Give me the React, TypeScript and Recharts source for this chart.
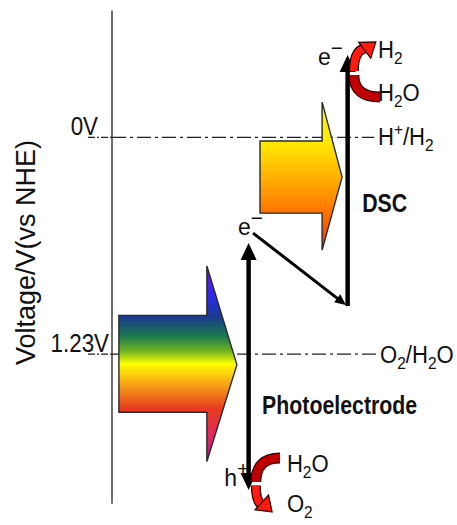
import React from 'react';
import { ComposedChart, XAxis, YAxis, Scatter } from 'recharts';

const FONT = "'Liberation Sans', Arial, sans-serif";

// redox levels (V vs NHE)
const levelValues = [0, 1.23];
const levelTicks = ['0V', '1.23V'];
const levelNames = ['H^+/H_2', 'O_2/H_2O'];
const levelEndX = [76, 76.5];
const levelNameX = [77.1, 77.7];
const levelNameV = [0.043, 1.28];

// potential axis
const axisX = [0, 0];
const axisV = [-0.72, 2.08];

// incoming light (polygon outline: body + head)
const lightX = [2, 27.5, 27.5, 36.2, 27.5, 27.5, 2];
const lightV = [1.01, 1.01, 0.73, 1.29, 1.84, 1.56, 1.56];
const dscLightX = [42.9, 60.9, 60.9, 66.7, 60.9, 60.9, 42.9];
const dscLightV = [0.02, 0.02, -0.2, 0.225, 0.64, 0.43, 0.43];

// carrier transitions
const dscJumpX = [68.3, 68.3];
const dscJumpV = [0.957, -0.468];
const photoJumpX = [39.6, 39.6];
const photoJumpV = [0.599, 2.001];
const transferX = [40.9, 67.8];
const transferV = [0.543, 0.951];

// reactions (start, turn, end)
const h2EvolutionX = [77.7, 70.1, 76.5];
const h2EvolutionV = [-0.229, -0.354, -0.542];
const o2EvolutionX = [48.7, 41.7, 46.4];
const o2EvolutionV = [1.82, 1.956, 2.126];

// text labels
const speciesNames = ['H_2', 'H_2O', 'H_2O', 'O_2'];
const speciesX = [77.1, 77.1, 50.7, 50.7];
const speciesV = [-0.451, -0.207, 1.899, 2.125];
const carrierNames = ['e^\u2212', 'e^\u2212', 'h^+'];
const carrierX = [59.7, 36.5, 32.5];
const carrierV = [-0.411, 0.554, 1.979];
const deviceNames = ['DSC', 'Photoelectrode'];
const deviceX = [72.5, 43.5];
const deviceV = [0.423, 1.57];

const pts = (xs: number[], vs: number[]) => xs.map((x, i) => ({ x, v: vs[i] }));
const named = (names: string[], xs: number[], vs: number[]) =>
  names.map((name, i) => ({ x: xs[i], v: vs[i], name }));

const levelLines = levelValues.map((v, i) => [{ x: 0, v }, { x: levelEndX[i], v }]);

const Formula = ({ x, y, text, size, weight = 'normal', squeeze = 1, supScale = 0.7 }: any) => {
  const parts: any[] = [];
  let shift = 0;
  let i = 0;
  while (i < text.length) {
    const c = text[i];
    if ((c === '_' || c === '^') && i + 1 < text.length) {
      const target = c === '_' ? size * 0.26 : -size * 0.42;
      parts.push(
        <tspan key={i} dy={target - shift} fontSize={size * (c === '^' ? supScale : 0.7)}>{text[i + 1]}</tspan>
      );
      shift = target;
      i += 2;
    } else {
      let s = '';
      let j = i;
      while (j < text.length && text[j] !== '_' && text[j] !== '^') {
        s += text[j];
        j++;
      }
      parts.push(<tspan key={i} dy={-shift} fontSize={size}>{s}</tspan>);
      shift = 0;
      i = j;
    }
  }
  return (
    <text
      x={0}
      y={0}
      transform={`translate(${x},${y}) scale(${squeeze},1)`}
      fontSize={size}
      fontFamily={FONT}
      fontWeight={weight}
      fill="#111"
    >
      {parts}
    </text>
  );
};

const textShape = (size: number, weight = 'normal', squeeze = 1, supScale = 0.7) => (p: any) => (
  <Formula
    x={p.cx}
    y={p.cy}
    text={(p.payload && p.payload.name) || p.name}
    size={size}
    weight={weight}
    squeeze={squeeze}
    supScale={supScale}
  />
);

const noDot = () => <g />;

const plainLine = (stroke: string, width: number, dash?: string) => (p: any) => {
  const [a, b] = p.points;
  return (
    <line x1={a.x} y1={a.y} x2={b.x} y2={b.y} stroke={stroke} strokeWidth={width} strokeDasharray={dash} />
  );
};

const lightArrow = (fillId: string) => (p: any) => (
  <polygon
    points={p.points.map((q: any) => `${q.x},${q.y}`).join(' ')}
    fill={`url(#${fillId})`}
    stroke="#2a2a2a"
    strokeWidth={1.4}
  />
);

const headPath = (tip: any, from: any, len: number, half: number) => {
  const dx = tip.x - from.x;
  const dy = tip.y - from.y;
  const l = Math.hypot(dx, dy) || 1;
  const ux = dx / l;
  const uy = dy / l;
  const bx = tip.x - ux * len;
  const by = tip.y - uy * len;
  return `M${tip.x},${tip.y} L${bx - uy * half},${by + ux * half} L${bx + uy * half},${by - ux * half} Z`;
};

const shorten = (tip: any, from: any, len: number) => {
  const dx = tip.x - from.x;
  const dy = tip.y - from.y;
  const l = Math.hypot(dx, dy) || 1;
  return { x: tip.x - (dx / l) * len, y: tip.y - (dy / l) * len };
};

const blackArrow = (width: number, len: number, half: number, both: boolean) => (p: any) => {
  const [a, b] = p.points;
  const end = shorten(b, a, len * 0.8);
  const start = both ? shorten(a, b, len * 0.8) : a;
  return (
    <g>
      <line x1={start.x} y1={start.y} x2={end.x} y2={end.y} stroke="#000" strokeWidth={width} />
      <path d={headPath(b, a, len, half)} fill="#000" />
      {both && <path d={headPath(a, b, len, half)} fill="#000" />}
    </g>
  );
};

const reactionArrow = (p: any) => {
  const [a, m, b] = p.points;
  const from = { x: m.x, y: b.y - (b.y - m.y) * 0.5 };
  const base = shorten(b, from, 10);
  const d1 = `M${a.x},${a.y} Q${m.x},${a.y} ${m.x},${m.y}`;
  const d2 = `M${m.x},${m.y + (b.y - m.y) * 0.12} Q${m.x},${base.y} ${base.x},${base.y}`;
  return (
    <g>
      <path d={d1} fill="none" stroke="#2a0000" strokeWidth={11} />
      <path d={d2} fill="none" stroke="#2a0000" strokeWidth={10} />
      <path d={d1} fill="none" stroke="#c00000" strokeWidth={8.5} />
      <path d={d2} fill="none" stroke="#ff1a10" strokeWidth={7.5} />
      <path d={headPath(b, from, 14, 10)} fill="#ff1a10" stroke="#2a0000" strokeWidth={1.2} />
    </g>
  );
};

const LevelTick = (props: any) => {
  const { x, y, payload } = props;
  const i = levelValues.indexOf(payload.value);
  const tickDx = [-14, -3];
  return (
    <g>
      <line x1={x - 24} x2={x} y1={y} y2={y} stroke="#222" strokeWidth={1.4} strokeDasharray="7 2 2 2" />
      <text
        x={0}
        y={0}
        transform={`translate(${x + tickDx[i]},${y - 2}) scale(0.86,1)`}
        textAnchor="end"
        fontSize={26}
        fontFamily={FONT}
        fill="#111"
      >
        {levelTicks[i]}
      </text>
    </g>
  );
};

const AxisTitle = (props: any) => {
  const vb = props.viewBox || { x: 0, y: 0, width: 112, height: 525 };
  const x = vb.x + 35;
  const y = vb.y + vb.height / 2 - 10;
  return (
    <text
      x={x}
      y={y}
      transform={`rotate(-90, ${x}, ${y})`}
      textAnchor="middle"
      fontSize={27}
      fontFamily={FONT}
      fill="#111"
    >
      Voltage/V(vs NHE)
    </text>
  );
};

export default function App() {
  return (
    <div style={{ position: 'absolute', left: 0, top: 0, background: '#fff' }}>
      <ComposedChart width={457} height={525} margin={{ top: 0, right: 0, bottom: 0, left: 0 }}>
        <defs>
          <linearGradient id="rainbow" x1="0" y1="0" x2="0" y2="1">
            <stop offset="0%" stopColor="#6a18e8" />
            <stop offset="17%" stopColor="#2a2ce0" />
            <stop offset="26%" stopColor="#1a3a8c" />
            <stop offset="36%" stopColor="#1a7a4c" />
            <stop offset="44%" stopColor="#7ab820" />
            <stop offset="50%" stopColor="#ffff00" />
            <stop offset="60%" stopColor="#f8a818" />
            <stop offset="73%" stopColor="#e83a20" />
            <stop offset="86%" stopColor="#e02a58" />
            <stop offset="100%" stopColor="#c01890" />
          </linearGradient>
          <linearGradient id="sunny" x1="0" y1="0" x2="0" y2="1">
            <stop offset="0%" stopColor="#ffff00" />
            <stop offset="30%" stopColor="#ffe400" />
            <stop offset="60%" stopColor="#ff9a00" />
            <stop offset="78%" stopColor="#ff6a00" />
            <stop offset="100%" stopColor="#ff2a00" />
          </linearGradient>
        </defs>
        <XAxis type="number" dataKey="x" domain={[0, 100]} hide />
        <YAxis
          type="number"
          dataKey="v"
          domain={[-0.78, 2.2]}
          reversed
          width={112}
          ticks={levelValues}
          tick={<LevelTick />}
          tickSize={0}
          tickMargin={0}
          axisLine={false}
          tickLine={false}
          label={<AxisTitle />}
        />

        <Scatter data={pts(axisX, axisV)} shape={noDot} line={plainLine('#333', 1.4)} isAnimationActive={false} />
        {levelLines.map((d, i) => (
          <Scatter key={i} data={d} shape={noDot} line={plainLine('#222', 1.4, '14 4 3 4')} isAnimationActive={false} />
        ))}
        <Scatter data={named(levelNames, levelNameX, levelNameV)} shape={textShape(23, 'normal', 0.96)} isAnimationActive={false} />

        <Scatter data={pts(lightX, lightV)} shape={noDot} line={lightArrow('rainbow')} isAnimationActive={false} />
        <Scatter data={pts(dscLightX, dscLightV)} shape={noDot} line={lightArrow('sunny')} isAnimationActive={false} />

        <Scatter data={pts(transferX, transferV)} shape={noDot} line={blackArrow(3, 11, 5, false)} isAnimationActive={false} />
        <Scatter data={pts(dscJumpX, dscJumpV)} shape={noDot} line={blackArrow(4.5, 17, 8, false)} isAnimationActive={false} />
        <Scatter data={pts(photoJumpX, photoJumpV)} shape={noDot} line={blackArrow(4.5, 17, 8, true)} isAnimationActive={false} />

        <Scatter data={pts(h2EvolutionX, h2EvolutionV)} shape={noDot} line={reactionArrow} isAnimationActive={false} />
        <Scatter data={pts(o2EvolutionX, o2EvolutionV)} shape={noDot} line={reactionArrow} isAnimationActive={false} />

        <Scatter data={named(speciesNames, speciesX, speciesV)} shape={textShape(23, 'normal', 0.96)} isAnimationActive={false} />
        <Scatter data={named(carrierNames, carrierX, carrierV)} shape={textShape(23, 'normal', 1, 0.9)} isAnimationActive={false} />
        <Scatter data={named(deviceNames, deviceX, deviceV)} shape={textShape(26, 'bold', 0.82)} isAnimationActive={false} />
      </ComposedChart>
    </div>
  );
}
